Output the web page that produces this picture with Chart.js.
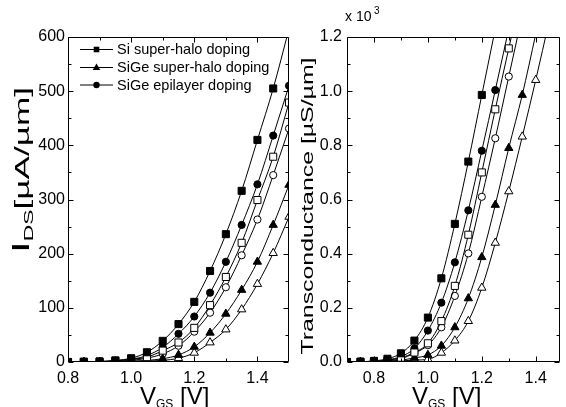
<!DOCTYPE html>
<html><head><meta charset="utf-8">
<script src="https://cdn.jsdelivr.net/npm/chart.js@4/dist/chart.umd.min.js"></script>
<style>
html,body{margin:0;padding:0;background:#fff;}
#wrap{position:relative;width:566px;height:407px;overflow:hidden;background:#fff;}
#c1{position:absolute;left:0;top:0;}
#c2{position:absolute;left:296px;top:0;}
</style></head><body>
<div id="wrap"><canvas id="c1" width="296" height="407"></canvas><canvas id="c2" width="270" height="407"></canvas></div>
<script>
// ---------- data: drain current (left panel) ----------
const vgsIds = [0.80,0.85,0.90,0.95,1.00,1.05,1.10,1.15,1.20,1.25,1.30,1.35,1.40,1.45,1.50];
const idsSiHaloFilled   = [0,0.5,1,3,7,18,39,70,111,168,236,316,410,505,615];
const idsSiHaloOpen     = [0,0.3,0.8,2,5,9,21,36,63,105,157,220,299,379,479];
const idsSiGeHaloFilled = [0,0,0.3,0.8,1.5,3,6,13,28,54,89,133,185,253,327];
const idsSiGeHaloOpen   = [0,0,0.2,0.5,1,2,3,7,17,36,60,97,144,201,268];
const idsSiGeEpiFilled  = [0,0.3,0.8,2,5,12,27,52,84,128,185,253,328,418,510];
const idsSiGeEpiOpen    = [0,0.2,0.5,1.5,3,7,15,30,56,91,138,197,263,345,431];

// ---------- data: transconductance (right panel, x 10^3 uS/um) ----------
const vgsGm = [0.70,0.75,0.80,0.85,0.90,0.95,1.00,1.05,1.10,1.15,1.20,1.25,1.30,1.35,1.40,1.45];
const gmSiHaloFilled   = [0,0.001,0.004,0.012,0.032,0.079,0.164,0.309,0.51,0.74,0.986,1.23,null,null,null,null];
const gmSiHaloOpen     = [0,0.001,0.002,0.006,0.016,0.035,0.069,0.151,0.281,0.47,0.70,0.933,1.158,1.38,null,null];
const gmSiGeHaloFilled = [0,0,0.001,0.003,0.007,0.015,0.026,0.06,0.128,0.235,0.387,0.58,0.79,0.986,1.21,null];
const gmSiGeHaloOpen   = [0,0,0,0.002,0.004,0.007,0.01,0.034,0.079,0.151,0.274,0.44,0.63,0.832,1.041,1.26];
const gmSiGeEpiFilled  = [0,0.001,0.003,0.008,0.02,0.05,0.116,0.219,0.368,0.56,0.78,1.004,1.23,null,null,null];
const gmSiGeEpiOpen    = [0,0.001,0.002,0.005,0.012,0.033,0.062,0.128,0.244,0.401,0.61,0.826,1.054,1.28,null,null];

// ---------- tick labels ----------
const idsXTicks = [0.8,1.0,1.2,1.4];
const idsXMinor = [0.9,1.1,1.3];
const idsYTicks = [0,100,200,300,400,500,600];
const idsYMinor = [50,150,250,350,450,550];
const gmXTicks = [0.8,1.0,1.2,1.4];
const gmXMinor = [0.9,1.1,1.3];
const gmYTicks = [0,0.2,0.4,0.6,0.8,1.0,1.2];
const gmYMinor = [0.1,0.3,0.5,0.7,0.9,1.1];

const legendLabels = ['Si super-halo doping','SiGe super-halo doping','SiGe epilayer doping'];

const FONT = "'Liberation Sans', Arial, Helvetica, sans-serif";
Chart.defaults.font.family = FONT;
Chart.defaults.color = '#000';

const RAD = {rect:5, triangle:4.8, circle:3.6};
function ds(label, xs, ys, style, filled){
  return {
    label, data: xs.map((x,i)=>({x:x, y:ys[i]})),
    pointStyle: style, pointRadius: RAD[style], pointHoverRadius: RAD[style],
    pointBackgroundColor: filled ? '#000' : '#fff', pointBorderColor:'#000', pointBorderWidth:1,
    borderColor:'#000', borderWidth:1, fill:false, showLine:true,
    cubicInterpolationMode:'monotone', spanGaps:false
  };
}

function frameTicks(xMajor, xMinor, yMajor, yMinor){
  return {id:'frameTicks', afterDatasetsDraw(chart){
    const ctx = chart.ctx, a = chart.chartArea, xs = chart.scales.x, ys = chart.scales.y;
    const L = Math.round(a.left)+0.5, R = Math.round(a.right)-0.5, T = Math.round(a.top)+0.5, B = Math.round(a.bottom)-0.5;
    ctx.save();
    ctx.strokeStyle = '#000'; ctx.lineWidth = 1;
    ctx.beginPath();
    ctx.rect(L, T, R-L, B-T);
    const vt = (v, len) => { const p = Math.round(xs.getPixelForValue(v))+0.5;
      ctx.moveTo(p, B); ctx.lineTo(p, B-len); ctx.moveTo(p, T); ctx.lineTo(p, T+len); };
    const ht = (v, len) => { const p = Math.round(ys.getPixelForValue(v))+0.5;
      ctx.moveTo(L, p); ctx.lineTo(L+len, p); ctx.moveTo(R, p); ctx.lineTo(R-len, p); };
    xMajor.forEach(v=>vt(v,5)); xMinor.forEach(v=>vt(v,3));
    yMajor.forEach(v=>ht(v,5)); yMinor.forEach(v=>ht(v,3));
    ctx.stroke();
    ctx.restore();
  }};
}

function richWidth(ctx, parts){
  let w = 0;
  parts.forEach(p=>{ ctx.font = p.s+'px '+FONT; w += ctx.measureText(p.t).width; });
  return w;
}
function drawRich(ctx, x, y, parts){
  ctx.textBaseline = 'alphabetic'; ctx.textAlign = 'left'; ctx.fillStyle = '#000';
  parts.forEach(p=>{ ctx.font = p.s+'px '+FONT; ctx.fillText(p.t, x, y + (p.dy||0)); x += ctx.measureText(p.t).width; });
}
function drawRotatedRich(ctx, xBase, yCenter, parts, len){
  ctx.save();
  ctx.translate(xBase, yCenter);
  ctx.rotate(-Math.PI/2);
  const w = richWidth(ctx, parts);
  ctx.scale(len / w, 1);
  drawRich(ctx, -w/2, 0, parts);
  ctx.restore();
}

function commonOptions(xmin, xmax, ymin, ymax, xTicks, yTicks, yWidth, padRight, yFmt, yPad){
  return {
    responsive:false, animation:false, events:[],
    layout:{padding:{left:0, right:padRight, top:37, bottom:0}},
    plugins:{legend:{display:false}, tooltip:{enabled:false}},
    scales:{
      x:{type:'linear', min:xmin, max:xmax,
         afterFit(s){ s.height = 45; },
         afterBuildTicks(s){ s.ticks = xTicks.map(v=>({value:v})); },
         grid:{display:false, drawTicks:false}, border:{display:false},
         ticks:{font:{size:16}, color:'#000', padding:7, maxRotation:0, minRotation:0, autoSkip:false,
                callback:(v)=>Number(v).toFixed(1)}},
      y:{type:'linear', min:ymin, max:ymax,
         afterFit(s){ s.width = yWidth; },
         afterBuildTicks(s){ s.ticks = yTicks.map(v=>({value:v})); },
         grid:{display:false, drawTicks:false}, border:{display:false},
         ticks:{font:{size:16}, color:'#000', padding:yPad, autoSkip:false, callback:yFmt}}
    }
  };
}

// ---------- left chart ----------
const legendPlugin = {id:'legendBox', afterDraw(chart){
  const ctx = chart.ctx;
  const rows = [49, 67, 84.5];
  const styles = ['rect','triangle','circle'];
  ctx.save();
  rows.forEach((y,i)=>{
    ctx.strokeStyle = '#000'; ctx.lineWidth = 1;
    ctx.beginPath(); ctx.moveTo(80, y+0.5); ctx.lineTo(113, y+0.5); ctx.stroke();
    ctx.fillStyle = '#000';
    const cx = 96.5, cy = y+0.5;
    ctx.beginPath();
    if (styles[i]==='rect') ctx.rect(cx-2.8, cy-2.8, 5.6, 5.6);
    else if (styles[i]==='triangle'){ ctx.moveTo(cx, cy-4); ctx.lineTo(cx+3.8, cy+2.6); ctx.lineTo(cx-3.8, cy+2.6); ctx.closePath(); }
    else ctx.arc(cx, cy, 3.2, 0, Math.PI*2);
    ctx.fill();
    ctx.font = '14.5px '+FONT; ctx.textBaseline = 'middle'; ctx.textAlign = 'left';
    ctx.fillText(legendLabels[i], 117, y+1);
  });
  ctx.restore();
}};
const titlesLeft = {id:'titlesLeft', afterDraw(chart){
  const ctx = chart.ctx;
  drawRotatedRich(ctx, 29, 170, [{t:'I',s:24},{t:'DS',s:13,dy:4},{t:'[\u00b5A/\u00b5m]',s:20}], 166);
  ctx.save();
  drawRich(ctx, 140, 404, [{t:'V',s:24},{t:'GS',s:12,dy:4},{t:' [V]',s:24}]);
  ctx.restore();
}};

new Chart(document.getElementById('c1'), {
  type:'line',
  data:{datasets:[
    ds('Si super-halo doping', vgsIds, idsSiHaloFilled, 'rect', true),
    ds('Si super-halo doping (open)', vgsIds, idsSiHaloOpen, 'rect', false),
    ds('SiGe super-halo doping', vgsIds, idsSiGeHaloFilled, 'triangle', true),
    ds('SiGe super-halo doping (open)', vgsIds, idsSiGeHaloOpen, 'triangle', false),
    ds('SiGe epilayer doping', vgsIds, idsSiGeEpiFilled, 'circle', true),
    ds('SiGe epilayer doping (open)', vgsIds, idsSiGeEpiOpen, 'circle', false)
  ]},
  options: commonOptions(0.8, 1.5, 0, 600, idsXTicks, idsYTicks, 68, 7, (v)=>String(v), 3),
  plugins:[frameTicks(idsXTicks, idsXMinor, idsYTicks, idsYMinor), legendPlugin, titlesLeft]
});

// ---------- right chart ----------
const titlesRight = {id:'titlesRight', afterDraw(chart){
  const ctx = chart.ctx;
  drawRotatedRich(ctx, 16.5, 206, [{t:'Transconductance [\u00b5S/\u00b5m]',s:17}], 297);
  ctx.save();
  drawRich(ctx, 49, 21, [{t:'x 10',s:14}]);
  drawRich(ctx, 78, 14, [{t:'3',s:10}]);
  drawRich(ctx, 116, 404, [{t:'V',s:24},{t:'GS',s:12,dy:4},{t:' [V]',s:24}]);
  ctx.restore();
}};

new Chart(document.getElementById('c2'), {
  type:'line',
  data:{datasets:[
    ds('Si super-halo doping', vgsGm, gmSiHaloFilled, 'rect', true),
    ds('Si super-halo doping (open)', vgsGm, gmSiHaloOpen, 'rect', false),
    ds('SiGe super-halo doping', vgsGm, gmSiGeHaloFilled, 'triangle', true),
    ds('SiGe super-halo doping (open)', vgsGm, gmSiGeHaloOpen, 'triangle', false),
    ds('SiGe epilayer doping', vgsGm, gmSiGeEpiFilled, 'circle', true),
    ds('SiGe epilayer doping (open)', vgsGm, gmSiGeEpiOpen, 'circle', false)
  ]},
  options: commonOptions(0.7, 1.49, 0, 1.2, gmXTicks, gmYTicks, 51, 2, (v)=>Number(v).toFixed(1), 5),
  plugins:[frameTicks(gmXTicks, gmXMinor, gmYTicks, gmYMinor), titlesRight]
});
</script>
</body></html>
